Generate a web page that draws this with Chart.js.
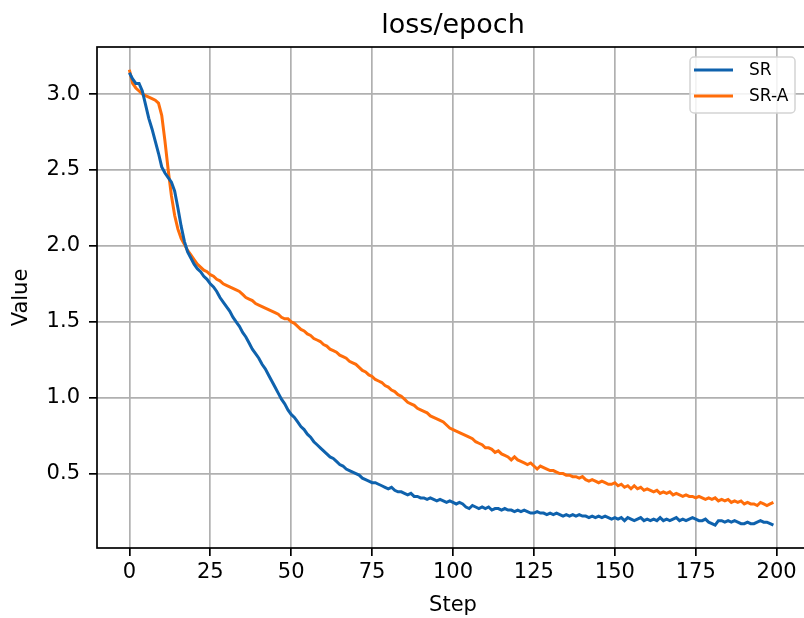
<!DOCTYPE html>
<html><head><meta charset="utf-8">
<script src="https://cdn.jsdelivr.net/npm/chart.js@4.4.0/dist/chart.umd.min.js"></script>
<style>html,body{margin:0;padding:0;overflow:hidden;background:#fff;width:804px;height:618px}canvas{display:block}</style>
</head><body>
<canvas id="c" width="812" height="618"></canvas>
<script>
const titleText = 'loss/epoch';
const xLabel = 'Step';
const yLabel = 'Value';
const seriesNames = ['SR', 'SR-A'];
const seriesColors = ['#0f62ad', '#ff6d0a'];
const xTicks = [0, 25, 50, 75, 100, 125, 150, 175, 200];
const yTicks = [0.5, 1.0, 1.5, 2.0, 2.5, 3.0];

const srValues = [
3.14,3.10,3.07,3.07,3.02,2.93,2.84,2.77,2.69,2.61,
2.52,2.48,2.45,2.42,2.36,2.25,2.13,2.03,1.96,1.92,
1.88,1.85,1.83,1.80,1.78,1.75,1.73,1.70,1.66,1.63,
1.60,1.57,1.53,1.50,1.47,1.43,1.40,1.36,1.32,1.29,
1.26,1.22,1.19,1.15,1.11,1.07,1.03,0.99,0.96,0.92,
0.89,0.87,0.84,0.81,0.79,0.76,0.74,0.71,0.69,0.67,
0.65,0.63,0.61,0.60,0.58,0.56,0.55,0.53,0.52,0.51,
0.50,0.49,0.47,0.46,0.45,0.44,0.44,0.43,0.42,0.41,
0.40,0.41,0.39,0.38,0.38,0.37,0.36,0.37,0.35,0.35,
0.34,0.34,0.33,0.34,0.33,0.32,0.33,0.32,0.31,0.32,
0.31,0.30,0.31,0.30,0.28,0.27,0.29,0.28,0.27,0.28,
0.27,0.28,0.26,0.27,0.27,0.26,0.27,0.26,0.26,0.25,
0.26,0.25,0.26,0.25,0.24,0.24,0.25,0.24,0.24,0.23,
0.24,0.23,0.24,0.23,0.22,0.23,0.22,0.23,0.22,0.23,
0.22,0.22,0.21,0.22,0.21,0.22,0.21,0.22,0.21,0.20,
0.21,0.20,0.21,0.19,0.21,0.20,0.19,0.20,0.21,0.19,
0.20,0.19,0.20,0.19,0.21,0.19,0.20,0.19,0.20,0.21,
0.19,0.20,0.19,0.20,0.21,0.20,0.19,0.19,0.20,0.18,
0.17,0.16,0.19,0.19,0.18,0.19,0.18,0.19,0.18,0.17,
0.17,0.18,0.17,0.17,0.18,0.19,0.18,0.18,0.17,0.16
];

const sraValues = [
3.16,3.07,3.04,3.02,3.00,2.99,2.98,2.97,2.96,2.94,
2.86,2.69,2.50,2.33,2.20,2.11,2.05,2.01,1.97,1.94,
1.91,1.88,1.86,1.84,1.83,1.81,1.80,1.78,1.77,1.75,
1.74,1.73,1.72,1.71,1.70,1.68,1.66,1.65,1.64,1.62,
1.61,1.60,1.59,1.58,1.57,1.56,1.55,1.53,1.52,1.52,
1.50,1.49,1.47,1.45,1.44,1.42,1.41,1.39,1.38,1.37,
1.35,1.34,1.32,1.31,1.30,1.28,1.27,1.26,1.24,1.23,
1.22,1.20,1.18,1.17,1.15,1.14,1.12,1.11,1.10,1.08,
1.07,1.05,1.04,1.02,1.01,0.99,0.97,0.96,0.95,0.93,
0.92,0.91,0.90,0.88,0.87,0.86,0.85,0.84,0.82,0.80,
0.79,0.78,0.77,0.76,0.75,0.74,0.73,0.71,0.70,0.69,
0.67,0.67,0.66,0.64,0.65,0.63,0.62,0.61,0.59,0.61,
0.59,0.58,0.57,0.56,0.57,0.55,0.53,0.55,0.54,0.53,
0.52,0.52,0.51,0.50,0.50,0.49,0.49,0.48,0.48,0.47,
0.48,0.46,0.45,0.46,0.45,0.44,0.45,0.44,0.43,0.43,
0.44,0.42,0.43,0.41,0.42,0.40,0.42,0.40,0.41,0.39,
0.40,0.39,0.38,0.39,0.37,0.38,0.37,0.38,0.36,0.37,
0.36,0.35,0.36,0.35,0.35,0.34,0.35,0.34,0.33,0.34,
0.33,0.34,0.32,0.33,0.32,0.33,0.31,0.32,0.31,0.32,
0.30,0.31,0.30,0.30,0.29,0.31,0.30,0.29,0.30,0.31
];

const steps = srValues.map((_, i) => i);
const allSeries = [srValues, sraValues];

const FONT = "'DejaVu Sans', 'Liberation Sans', sans-serif";

const framePlugin = {
  id: 'frame',
  afterDatasetsDraw(chart) {
    const ctx = chart.ctx, a = chart.chartArea;
    ctx.save();
    ctx.strokeStyle = '#000';
    ctx.lineWidth = 1.7;
    ctx.strokeRect(a.left, a.top, a.right - a.left, a.bottom - a.top);
    ctx.restore();
  }
};

const axTitlePlugin = {
  id: 'axTitle',
  afterDraw(chart) {
    const ctx = chart.ctx, a = chart.chartArea;
    ctx.save();
    ctx.font = '27px ' + FONT;
    ctx.fillStyle = '#000';
    ctx.textAlign = 'center';
    ctx.textBaseline = 'alphabetic';
    ctx.fillText(titleText, (a.left + a.right) / 2, a.top - 14);
    ctx.restore();
  }
};

const legendPlugin = {
  id: 'boxLegend',
  afterDraw(chart) {
    const ctx = chart.ctx, a = chart.chartArea;
    const w = 105, h = 56;
    const x = a.right - 14 - w, y = a.top + 10;
    ctx.save();
    ctx.beginPath();
    ctx.roundRect(x, y, w, h, 4);
    ctx.fillStyle = 'rgba(255,255,255,0.85)';
    ctx.fill();
    ctx.strokeStyle = '#d4d4d4';
    ctx.lineWidth = 1.5;
    ctx.stroke();
    ctx.font = '17px ' + FONT;
    ctx.textBaseline = 'middle';
    ctx.textAlign = 'left';
    chart.data.datasets.forEach((ds, i) => {
      const ry = y + 13 + i * 26;
      ctx.beginPath();
      ctx.moveTo(x + 4, ry);
      ctx.lineTo(x + 43, ry);
      ctx.strokeStyle = ds.borderColor;
      ctx.lineWidth = 3;
      ctx.stroke();
      ctx.fillStyle = '#000';
      ctx.fillText(ds.label, x + 59, ry + 1);
    });
    ctx.restore();
  }
};

const datasets = allSeries.map((vals, k) => ({
  label: seriesNames[k],
  data: vals.map((v, i) => ({ x: steps[i], y: v })),
  borderColor: seriesColors[k],
  backgroundColor: seriesColors[k],
  borderWidth: 3,
  pointRadius: 0,
  tension: 0,
  fill: false
}));

new Chart(document.getElementById('c'), {
  type: 'line',
  data: { datasets },
  plugins: [framePlugin, axTitlePlugin, legendPlugin],
  options: {
    responsive: false,
    animation: false,
    devicePixelRatio: 1,
    layout: { padding: { left: 0, right: 3, top: 47, bottom: 0 } },
    plugins: {
      legend: { display: false },
      tooltip: { enabled: false },
      title: { display: false }
    },
    scales: {
      x: {
        type: 'linear',
        min: -10,
        max: 210,
        afterBuildTicks: s => { s.ticks = xTicks.map(v => ({ value: v })); },
        afterFit: s => { s.height = 70; },
        grid: { color: '#b0b0b0', lineWidth: 1.7, drawTicks: true, tickLength: 8, tickColor: '#000', tickWidth: 1.7 },
        border: { display: false },
        ticks: { color: '#000', padding: 4, maxRotation: 0, font: { family: FONT, size: 21 }, callback: v => String(v) },
        title: { display: true, text: xLabel, color: '#000', font: { family: FONT, size: 21 }, padding: { top: 0, bottom: 0 } }
      },
      y: {
        type: 'linear',
        min: 0.01,
        max: 3.31,
        afterBuildTicks: s => { s.ticks = yTicks.map(v => ({ value: v })); },
        afterFit: s => { s.width = 97; },
        grid: { color: '#b0b0b0', lineWidth: 1.7, drawTicks: true, tickLength: 8, tickColor: '#000', tickWidth: 1.7 },
        border: { display: false },
        ticks: { color: '#000', padding: 9, font: { family: FONT, size: 21 }, callback: v => Number(v).toFixed(1) },
        title: { display: true, text: yLabel, color: '#000', font: { family: FONT, size: 21 }, padding: { top: 9, bottom: 0 } }
      }
    }
  }
});
</script>
</body></html>
